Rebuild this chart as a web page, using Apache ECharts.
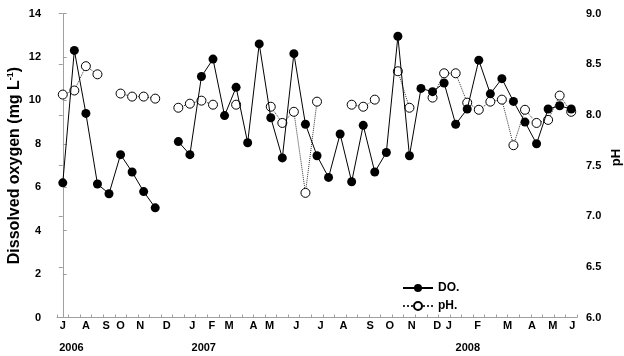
<!DOCTYPE html>
<html>
<head>
<meta charset="utf-8">
<script src="https://cdn.jsdelivr.net/npm/echarts@6/dist/echarts.min.js"></script>
<style>
  html, body { margin: 0; padding: 0; background: #fff; }
  #main { width: 624px; height: 356px; }
</style>
</head>
<body>
<div id="main"></div>
<script>
// sampling number (45 samples, roughly twice a month, Jul 2006 - Jun 2008)
var samples = [];
for (var i = 1; i <= 45; i++) samples.push(String(i));

// dissolved oxygen, mg/L (null = not sampled)
var doValues = [6.2, 12.3, 9.4, 6.15, 5.7, 7.5, 6.7, 5.8, 5.05, null,
  8.1, 7.5, 11.1, 11.9, 9.3, 10.6, 8.05, 12.6, 9.2, 7.35,
  12.15, 8.9, 7.45, 6.45, 8.45, 6.25, 8.85, 6.7, 7.6, 12.95,
  7.45, 10.55, 10.4, 10.8, 8.9, 9.6, 11.85, 10.3, 11.0, 9.95,
  9.0, 8.0, 9.6, 9.75, 9.6];

// pH (null = not measured)
var phValues = [8.2, 8.24, 8.48, 8.4, null, 8.21, 8.18, 8.18, 8.16, null,
  8.07, 8.11, 8.14, 8.1, null, 8.1, null, null, 8.08, 7.92,
  8.03, 7.23, 8.13, null, null, 8.1, 8.08, 8.15, null, 8.43,
  8.07, null, 8.17, 8.41, 8.41, 8.12, 8.05, 8.13, 8.15, 7.7,
  8.05, 7.92, 7.95, 8.19, 8.03];

// month labels and where they sit along the sample axis
var monthLabels = ['J', 'A', 'S', 'O', 'N', 'D', 'J', 'F', 'M', 'A', 'M', 'J',
  'J', 'A', 'S', 'O', 'N', 'D', 'J', 'F', 'M', 'A', 'M', 'J'];
var monthPos = [0, 2, 3.75, 5, 6.7, 9, 11.2, 12.9, 14.4, 16.5, 17.9, 20.2,
  22.3, 24.3, 26.6, 28.3, 30.2, 32.4, 33.4, 35.9, 38.5, 40.6, 42.4, 44.1];

var yearLabels = ['2006', '2007', '2008'];
var yearPos = [0.75, 12.2, 35.05];

var font = 'Liberation Sans, Arial, sans-serif';
var axisGray = '#a0a0a0';

var chart = echarts.init(document.getElementById('main'));

chart.setOption({
  animation: false,
  backgroundColor: '#fff',
  textStyle: { fontFamily: font },
  grid: { left: 57, right: 47, top: 13.5, bottom: 38.5, containLabel: false, outerBoundsMode: 'none' },
  legend: {
    orient: 'vertical',
    left: 397,
    top: 277,
    itemWidth: 30,
    itemHeight: 10,
    itemGap: 6,
    textStyle: { fontFamily: font, fontWeight: 'bold', fontSize: 12, color: '#000' },
    data: ['DO.', 'pH.']
  },
  xAxis: [
    {
      type: 'category',
      data: samples,
      boundaryGap: true,
      axisLine: { lineStyle: { color: axisGray, width: 1 } },
      axisTick: { show: true, inside: true, length: 3, interval: 0, lineStyle: { color: axisGray } },
      axisLabel: { show: false },
      splitLine: { show: false }
    },
    {
      // month labels
      type: 'value',
      position: 'bottom',
      min: -0.5,
      max: 44.5,
      axisLine: { show: false },
      axisTick: { show: false },
      splitLine: { show: false },
      axisLabel: {
        customValues: monthPos,
        margin: 3,
        fontFamily: font,
        fontWeight: 'bold',
        fontSize: 11,
        color: '#000',
        formatter: function (v) { return monthLabels[monthPos.indexOf(v)]; }
      }
    },
    {
      // year labels
      type: 'value',
      position: 'bottom',
      offset: 22,
      min: -0.5,
      max: 44.5,
      axisLine: { show: false },
      axisTick: { show: false },
      splitLine: { show: false },
      axisLabel: {
        customValues: yearPos,
        margin: 3,
        fontFamily: font,
        fontWeight: 'bold',
        fontSize: 11,
        color: '#000',
        formatter: function (v) { return yearLabels[yearPos.indexOf(v)]; }
      }
    }
  ],
  yAxis: [
    {
      type: 'value',
      min: 0,
      max: 14,
      interval: 2,
      name: '{a|Dissolved oxygen (mg L}{s|-1}{a|)}',
      nameLocation: 'middle',
      nameGap: 33,
      nameMoveOverlap: false,
      nameTextStyle: {
        rich: {
          a: { fontFamily: font, fontWeight: 'bold', fontSize: 16, color: '#000', lineHeight: 18 },
          s: { fontFamily: font, fontWeight: 'bold', fontSize: 9, color: '#000', verticalAlign: 'top', lineHeight: 18 }
        }
      },
      axisLine: { show: true, lineStyle: { color: axisGray, width: 1 } },
      axisTick: { show: true, inside: true, length: 4, lineStyle: { color: axisGray } },
      axisLabel: { margin: 16, fontFamily: font, fontWeight: 'bold', fontSize: 11, color: '#000' },
      splitLine: { show: false }
    },
    {
      type: 'value',
      min: 6,
      max: 9,
      interval: 0.5,
      position: 'right',
      name: 'pH',
      nameLocation: 'middle',
      nameGap: 33,
      nameMoveOverlap: false,
      nameTextStyle: { fontFamily: font, fontWeight: 'bold', fontSize: 13, color: '#000', padding: [0, 0, 0, 16] },
      axisLine: { show: true, lineStyle: { color: axisGray, width: 1 } },
      axisTick: { show: true, inside: true, length: 4, lineStyle: { color: axisGray } },
      axisLabel: {
        margin: 9, fontFamily: font, fontWeight: 'bold', fontSize: 11, color: '#000',
        formatter: function (v) { return v.toFixed(1); }
      },
      splitLine: { show: false }
    }
  ],
  series: [
    {
      name: 'DO.',
      type: 'line',
      xAxisIndex: 0,
      yAxisIndex: 0,
      data: doValues,
      connectNulls: false,
      symbol: 'circle',
      symbolSize: 9,
      showSymbol: true,
      showAllSymbol: true,
      z: 3,
      lineStyle: { color: '#000', width: 1 },
      itemStyle: { color: '#000', borderColor: '#000', borderWidth: 0 }
    },
    {
      name: 'pH.',
      type: 'line',
      xAxisIndex: 0,
      yAxisIndex: 1,
      data: phValues,
      connectNulls: false,
      symbol: 'circle',
      symbolSize: 9,
      showSymbol: true,
      showAllSymbol: true,
      z: 2,
      lineStyle: { color: '#333', width: 1, type: 'dotted' },
      itemStyle: { color: '#fff', borderColor: '#000', borderWidth: 1 }
    }
  ]
});
</script>
</body>
</html>
